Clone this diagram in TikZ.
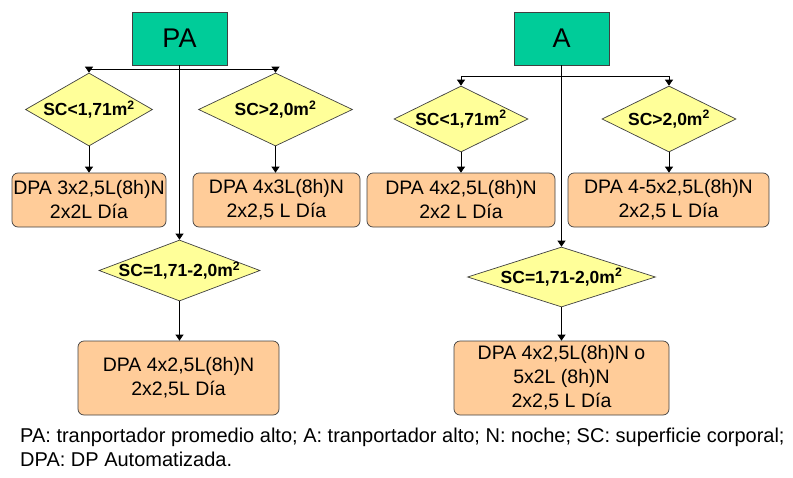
\documentclass[tikz,border=0pt]{standalone}
\usepackage{fontspec}
\setmainfont{Liberation Sans}
\usetikzlibrary{shapes.geometric,arrows.meta}
\definecolor{hdgreen}{HTML}{00CC99}
\definecolor{dyellow}{HTML}{FFFF99}
\definecolor{borange}{HTML}{FFCC99}
\definecolor{edgegray}{HTML}{404040}
\tikzset{
  hdbox/.style={draw=edgegray, line width=0.9pt, fill=hdgreen, minimum width=#1, minimum height=53pt, inner sep=0pt, font=\fontsize{27}{30}\selectfont},
  decision/.style args={#1/#2}{diamond, draw=edgegray, line width=0.7pt, fill=dyellow, minimum width=#1, minimum height=#2, inner sep=0pt, font=\fontsize{17.5}{20}\selectfont\bfseries},
  resbox/.style args={#1/#2}{draw=edgegray, line width=0.7pt, fill=borange, rounded corners=6pt, minimum width=#1, minimum height=#2, inner sep=0pt, align=center, font=\fontsize{19.5}{24}\selectfont},
  arr/.style={draw=black, line width=0.7pt, -{Triangle[length=6pt,width=8pt]}},
  foot/.style={anchor=base west, inner sep=0pt, font=\fontsize{20}{24}\selectfont}
}
\newcommand{\dtext}[1]{\makebox[0pt]{#1}}
\begin{document}
\begin{tikzpicture}[x=1pt,y=-1pt]
\useasboundingbox (0,0) rectangle (793,477);
% PA side
\node[hdbox=95pt] (pa) at (179.5,38.5) {PA};
\node[decision=127pt/73pt] (pa1) at (89,109.5) {\dtext{SC<1,71m\textsuperscript{2}}};
\node[decision=154pt/73pt] (pa2) at (275.5,109.5) {\dtext{SC>2,0m\textsuperscript{2}}};
\node[decision=161pt/61pt] (pa3) at (179.5,270.5) {\dtext{SC=1,71-2,0m\textsuperscript{2}}};
\node[resbox=154pt/54pt] (pab1) at (89,200) {DPA 3x2,5L(8h)N\\2x2L Día};
\node[resbox=167pt/54pt] (pab2) at (276.5,200) {DPA 4x3L(8h)N\\2x2,5 L Día};
\node[resbox=201pt/74pt] (pab3) at (178.5,378) {DPA 4x2,5L(8h)N\\2x2,5L Día};
\coordinate (paj) at (179.5,69);
\draw[line width=0.7pt] (pa.south) -- (paj);
\draw[arr] (paj) -| (pa1.north);
\draw[arr] (paj) -| (pa2.north);
\draw[arr] (pa.south) -- (pa3.north);
\draw[arr] (pa1.south) -- (pab1.north -| pa1.south);
\draw[arr] (pa2.south) -- (pab2.north -| pa2.south);
\draw[arr] (pa3.south) -- (pab3.north -| pa3.south);
% A side
\node[hdbox=95pt] (a) at (561.5,38.5) {A};
\node[decision=134pt/66pt] (a1) at (461,119) {\dtext{SC<1,71m\textsuperscript{2}}};
\node[decision=134pt/66pt] (a2) at (669,119) {\dtext{SC>2,0m\textsuperscript{2}}};
\node[decision=188pt/60pt] (a3) at (561.5,277) {\dtext{SC=1,71-2,0m\textsuperscript{2}}};
\node[resbox=188pt/54pt] (ab1) at (461,200) {DPA 4x2,5L(8h)N\\2x2 L Día};
\node[resbox=201pt/54pt] (ab2) at (668.5,200) {DPA 4-5x2,5L(8h)N\\2x2,5 L Día};
\node[resbox=215pt/74pt] (ab3) at (561.5,378) {DPA 4x2,5L(8h)N o\\5x2L (8h)N\\2x2,5 L Día};
\coordinate (aj) at (561.5,76);
\draw[line width=0.7pt] (a.south) -- (aj);
\draw[arr] (aj) -| (a1.north);
\draw[arr] (aj) -| (a2.north);
\draw[arr] (a.south) -- (a3.north);
\draw[arr] (a1.south) -- (ab1.north -| a1.south);
\draw[arr] (a2.south) -- (ab2.north -| a2.south);
\draw[arr] (a3.south) -- (ab3.north -| a3.south);
% footnote
\node[foot] (f1) at (20,442) {PA: tranportador promedio alto; A: tranportador alto; N: noche; SC: superficie corporal;};
\node[foot] (f2) at (20,466) {DPA: DP Automatizada.};
\end{tikzpicture}
\end{document}
